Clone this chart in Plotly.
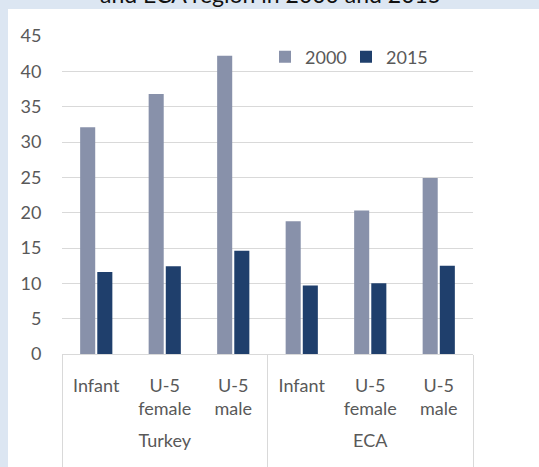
import plotly.graph_objects as go

regions = ["Turkey<br>\u00a0", "Turkey<br>\u00a0", "Turkey<br>\u00a0", "ECA<br>\u00a0", "ECA<br>\u00a0", "ECA<br>\u00a0"]
indicators = ["Infant<br>\u00a0<br>\u00a0", "U-5<br>female<br>\u00a0", "U-5<br>male<br>\u00a0",
              "Infant<br>\u00a0<br>\u00a0", "U-5<br>female<br>\u00a0", "U-5<br>male<br>\u00a0"]
values_2000 = [32.1, 36.8, 42.2, 18.8, 20.3, 24.9]
values_2015 = [11.6, 12.4, 14.6, 9.7, 10.0, 12.5]
y_ticks = [0, 5, 10, 15, 20, 25, 30, 35, 40, 45]
title_text = "and ECA region in 2000 and 2015"

W, H = 539, 467
L, R, T, B = 62, 66, 36, 113
pw, ph = W - L - R, H - T - B

def px_x(p):
    return (p - L) / pw

def px_y(p):
    return (H - B - p) / ph

font = dict(family="Lato, Noto Sans, sans-serif", size=18, color="#595959")

fig = go.Figure()
fig.add_trace(go.Bar(x=[regions, indicators], y=values_2000, name="2000",
                     marker=dict(color="#8891aa", line=dict(width=0))))
fig.add_trace(go.Bar(x=[regions, indicators], y=values_2015, name="2015",
                     marker=dict(color="#1f3f6c", line=dict(width=0))))

fig.update_layout(
    width=W, height=H,
    margin=dict(l=L, r=R, t=T, b=B, pad=0, autoexpand=False),
    paper_bgcolor="#dce6f2",
    plot_bgcolor="white",
    font=font,
    barmode="group",
    bargap=0.5,
    bargroupgap=0.12,
    showlegend=True,
    legend=dict(orientation="h", x=px_x(265), y=px_y(57), xanchor="left", yanchor="middle",
                bgcolor="rgba(0,0,0,0)", font=dict(size=18, color="#595959"),
                itemwidth=30, tracegroupgap=0, entrywidth=36, entrywidthmode="pixels"),
    shapes=[dict(type="rect", xref="paper", yref="paper", layer="below",
                 x0=px_x(8), x1=px_x(W + 5), y0=px_y(9), y1=px_y(H + 5),
                 fillcolor="white", line=dict(width=0))],
    annotations=[dict(text=title_text, xref="paper", yref="paper",
                      x=px_x(270), y=px_y(10), xanchor="center", yanchor="bottom",
                      showarrow=False, font=dict(size=23, color="#111111"))],
)
fig.update_yaxes(range=[0, 45], tickvals=y_ticks, showgrid=True, gridcolor="#d9d9d9",
                 gridwidth=1, zeroline=False, showline=False, automargin=False,
                 ticks="outside", ticklen=16, tickcolor="rgba(0,0,0,0)",
                 tickfont=dict(size=18, color="#595959"))
fig.update_xaxes(type="multicategory", showline=True, linecolor="#d9d9d9", linewidth=1,
                 showdividers=True, dividercolor="#d9d9d9", dividerwidth=1, automargin=False,
                 ticks="", ticklabelstandoff=15,
                 tickfont=dict(size=18, color="#595959"))

fig.write_html("out.html", config={"displayModeBar": False},
               post_script="document.body.style.margin='0';")
